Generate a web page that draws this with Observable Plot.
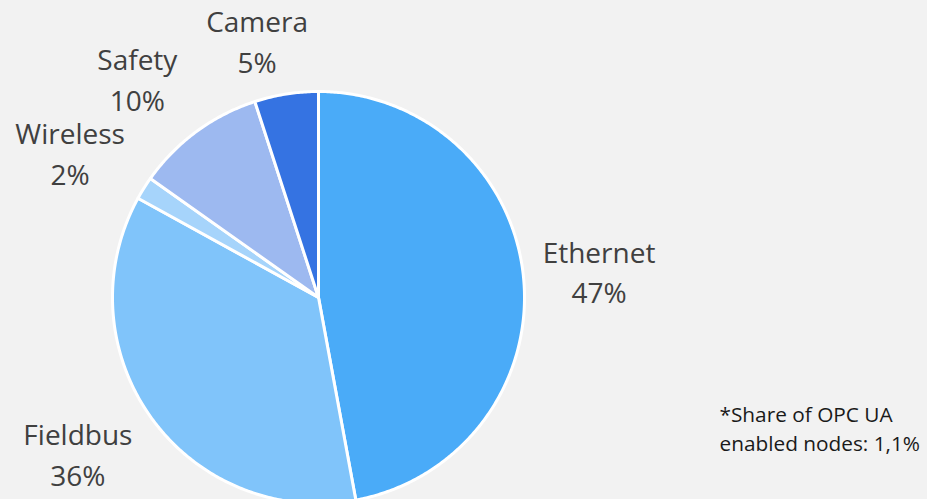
<!DOCTYPE html>
<html>
<head>
<meta charset="utf-8">
<script src="https://cdn.jsdelivr.net/npm/d3@7"></script>
<script src="https://cdn.jsdelivr.net/npm/@observablehq/plot@0.6"></script>
<style>
  html, body { margin: 0; padding: 0; background: #f2f2f2; overflow: hidden; }
  #chart svg { display: block; }
</style>
</head>
<body>
<div id="chart"></div>
<script>
// ---- data ----
const categories = ["Ethernet", "Fieldbus", "Wireless", "Safety", "Camera"];
const shares = [47.1, 35.9, 1.8, 10.2, 5.0];          // percent, clockwise from 12 o'clock
const shareLabels = ["47%", "36%", "2%", "10%", "5%"];
const colors = ["#4aabf8", "#80c4fa", "#a6d4fb", "#9db9f0", "#3573e2"];
const footnote = "*Share of OPC UA\nenabled nodes: 1,1%";

// ---- layout ----
const W = 927, H = 499;
const cx = 318, cy = 297, R = 206;      // pixel centre / radius of the pie
const xDomain = [-cx / R, (W - cx) / R];
const yDomain = [-(H - cy) / R, cy / R];

const arcs = d3.pie().sort(null).value(d => d)(shares);

// polygon for each slice in unit-circle coordinates (y up, angle clockwise from top)
const slices = arcs.map((a, i) => {
  const pts = [{x: 0, y: 0}];
  const n = Math.max(2, Math.ceil((a.endAngle - a.startAngle) / (Math.PI / 360)));
  for (let k = 0; k <= n; k++) {
    const t = a.startAngle + (a.endAngle - a.startAngle) * k / n;
    pts.push({x: Math.sin(t), y: Math.cos(t)});
  }
  pts.push({x: 0, y: 0});
  return {name: categories[i], color: colors[i], pts};
});

// label positions: "outside end" — box offset from the arc's mid point
const fontSize = 28, lineH = 1.46;
const ctx = document.createElement("canvas").getContext("2d");
ctx.font = `${fontSize}px "Open Sans"`;
const gap = 19;
const vExt = fontSize * lineH * 0.9 + 15;
const labels = arcs.map((a, i) => {
  const m = (a.startAngle + a.endAngle) / 2;
  const s = Math.sin(m), c = Math.cos(m);
  const hw = Math.max(ctx.measureText(categories[i]).width, ctx.measureText(shareLabels[i]).width) / 2;
  const ox = Math.sign(s) * (hw + gap) * Math.min(1, 2.67 * Math.abs(s));
  const oy = Math.sign(c) * vExt * Math.min(1, 1.23 * Math.abs(c));
  return {x: s + ox / R, y: c + oy / R, text: categories[i] + "\n" + shareLabels[i]};
});

const marks = slices.map(s => Plot.line(s.pts, {
  x: "x", y: "y", fill: s.color, stroke: "white", strokeWidth: 3,
  strokeLinejoin: "round", clip: true
}));

marks.push(Plot.text(labels, {
  x: "x", y: "y", text: "text", fontSize, lineHeight: lineH, dy: -3,
  fill: "#404040", fontFamily: "Open Sans", lineAnchor: "middle", textAnchor: "middle"
}));

marks.push(Plot.text([footnote], {
  frameAnchor: "bottom-right", textAnchor: "start", lineAnchor: "middle",
  dx: -208, dy: -72, fontSize: 20.8, lineHeight: 1.35,
  fill: "#1a1a1a", fontFamily: "Open Sans"
}));

const chart = Plot.plot({
  width: W, height: H,
  margin: 0,
  x: {domain: xDomain, axis: null},
  y: {domain: yDomain, axis: null},
  style: {background: "#f2f2f2", fontFamily: "Open Sans"},
  marks
});
document.getElementById("chart").append(chart);
</script>
</body>
</html>
